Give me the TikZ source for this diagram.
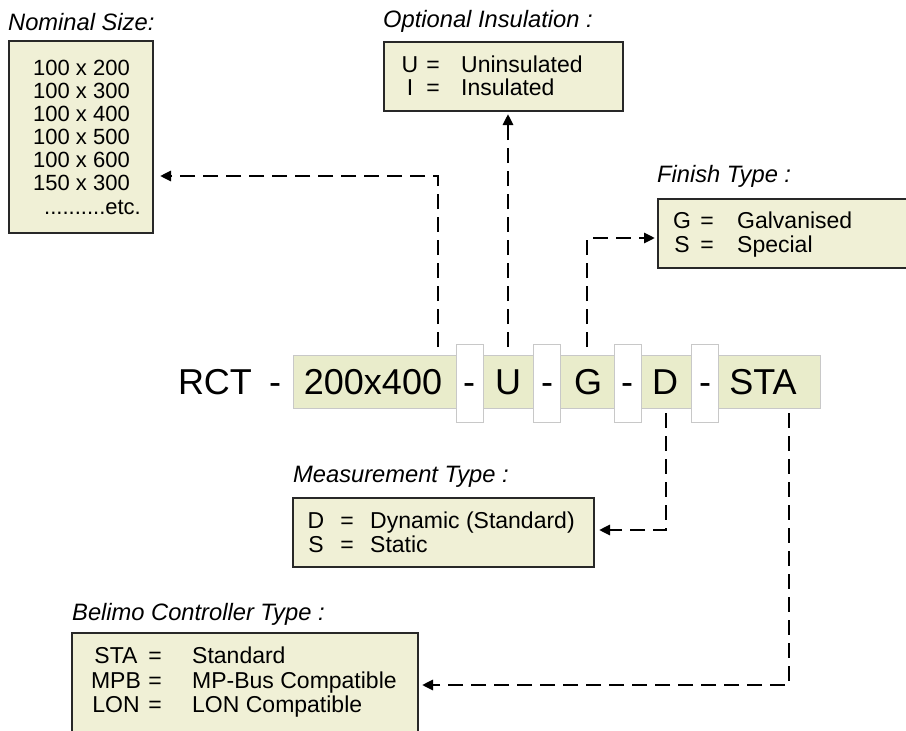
\documentclass[tikz,border=0pt]{standalone}
\usepackage{fontspec}
\setmainfont{Liberation Sans}
\usetikzlibrary{arrows.meta}
\definecolor{boxfill}{RGB}{240,240,214}
\definecolor{bandfill}{RGB}{233,236,203}
\definecolor{edge}{RGB}{40,40,40}
\definecolor{tabedge}{RGB}{200,200,200}
\begin{document}
\begin{tikzpicture}[x=1pt,y=-1pt,
  legend/.style={draw=edge, line width=2pt, fill=boxfill, anchor=north west, inner sep=0pt},
  heading/.style={anchor=base west, inner sep=0pt, font=\fontsize{23.7}{24}\selectfont\itshape},
  item/.style={anchor=base, inner sep=0pt, font=\fontsize{23}{23}\selectfont},
  itemw/.style={item, anchor=base west},
  size/.style={anchor=base west, inner sep=0pt, font=\fontsize{22}{22}\selectfont},
  code/.style={anchor=base, inner sep=0pt, font=\fontsize{36}{36}\selectfont},
  band/.style={fill=bandfill, draw=tabedge, line width=0.6pt, anchor=north west, inner sep=0pt},
  tab/.style={fill=white, draw=tabedge, line width=0.8pt, anchor=north west, inner sep=0pt,
              minimum width=27pt, minimum height=78pt},
  conn/.style={line width=2.8pt, dash pattern=on 15pt off 8pt,
               -{Triangle[length=11pt,width=10pt]}},
]
\useasboundingbox (0,0) rectangle (906,731);

% ---- code strip ----
\node[band, minimum width=527pt, minimum height=53pt] (band) at (293,355) {};
\node[tab] (tab1) at (456,344) {};
\node[tab] (tab2) at (533,344) {};
\node[tab] (tab3) at (614,344) {};
\node[tab] (tab4) at (691,344) {};

\node[code] (pRCT) at (215,394) {RCT};
\node[code] (d0)   at (275,394) {-};
\node[code] (p200) at (373,394) {200x400};
\node[code] (d1)   at (469,394) {-};
\node[code] (pU)   at (508,394) {U};
\node[code] (d2)   at (547,394) {-};
\node[code] (pG)   at (588,394) {G};
\node[code] (d3)   at (627,394) {-};
\node[code] (pD)   at (665,394) {D};
\node[code] (d4)   at (705,394) {-};
\node[code] (pSTA) at (763,394) {STA};

% ---- legend boxes ----
\node[legend, minimum width=144pt, minimum height=192pt] (nominal) at (8,40) {};
\node[legend, minimum width=239pt, minimum height=69pt] (optional) at (383,41) {};
\node[legend, minimum width=270pt, minimum height=69pt] (finish) at (657,198) {};
\node[legend, minimum width=301pt, minimum height=69pt] (measure) at (292,497) {};
\node[legend, minimum width=346pt, minimum height=130pt] (belimo) at (71,632) {};

% ---- headings ----
\node[heading] (hNom) at (8,30) {Nominal Size:};
\node[heading] (hOpt) at (383,27) {Optional Insulation :};
\node[heading] (hFin) at (657,182) {Finish Type :};
\node[heading] (hMea) at (293,482) {Measurement Type :};
\node[heading] (hBel) at (72,620) {Belimo Controller Type :};

% ---- nominal sizes ----
\node[size] (n1) at (33,75)  {100 x 200};
\node[size] (n2) at (33,98)  {100 x 300};
\node[size] (n3) at (33,121) {100 x 400};
\node[size] (n4) at (33,144) {100 x 500};
\node[size] (n5) at (33,167) {100 x 600};
\node[size] (n6) at (33,190) {150 x 300};
\node[size, anchor=base east] (n7) at (141,214) {..........etc.};

% ---- optional insulation ----
\node[item]  (oU)  at (410,72) {U};
\node[item]  (oI)  at (410,95) {I};
\node[item]  (oe1) at (433,72) {=};
\node[item]  (oe2) at (433,95) {=};
\node[itemw] (oT1) at (461,72) {Uninsulated};
\node[itemw] (oT2) at (461,95) {Insulated};

% ---- finish type ----
\node[item]  (fG)  at (682,228) {G};
\node[item]  (fS)  at (682,252) {S};
\node[item]  (fe1) at (707,228) {=};
\node[item]  (fe2) at (707,252) {=};
\node[itemw] (fT1) at (737,228) {Galvanised};
\node[itemw] (fT2) at (737,252) {Special};

% ---- measurement type ----
\node[item]  (mD)  at (316,528) {D};
\node[item]  (mS)  at (316,552) {S};
\node[item]  (me1) at (347,528) {=};
\node[item]  (me2) at (347,552) {=};
\node[itemw] (mT1) at (370,528) {Dynamic (Standard)};
\node[itemw] (mT2) at (370,552) {Static};

% ---- controller type ----
\node[item]  (bA)  at (116,663) {STA};
\node[item]  (bB)  at (116,688) {MPB};
\node[item]  (bC)  at (116,712) {LON};
\node[item]  (be1) at (155,663) {=};
\node[item]  (be2) at (155,688) {=};
\node[item]  (be3) at (155,712) {=};
\node[itemw] (bT1) at (192,663) {Standard};
\node[itemw] (bT2) at (192,688) {MP-Bus Compatible};
\node[itemw] (bT3) at (192,712) {LON Compatible};

% ---- connectors ----
\coordinate (s200) at (438,347);
\coordinate (sU)   at (508,347);
\coordinate (sG)   at (587,347);
\coordinate (sD)   at (666,413);
\coordinate (sSTA) at (789,413);
\coordinate (k1) at (0,176);
\coordinate (k3) at (0,238);
\coordinate (k4) at (0,530);
\coordinate (k5) at (0,685);

\draw[conn, shorten >=6pt] (s200) |- (nominal.east |- k1);
\draw[conn, shorten >=2pt] (sU) -- (sU |- optional.south);
\draw[conn, shorten >=2pt] (sG) |- (finish.west |- k3);
\draw[conn, shorten >=4pt] (sD) |- (measure.east |- k4);
\draw[conn, shorten >=3pt] (sSTA) |- (belimo.east |- k5);
\end{tikzpicture}
\end{document}
